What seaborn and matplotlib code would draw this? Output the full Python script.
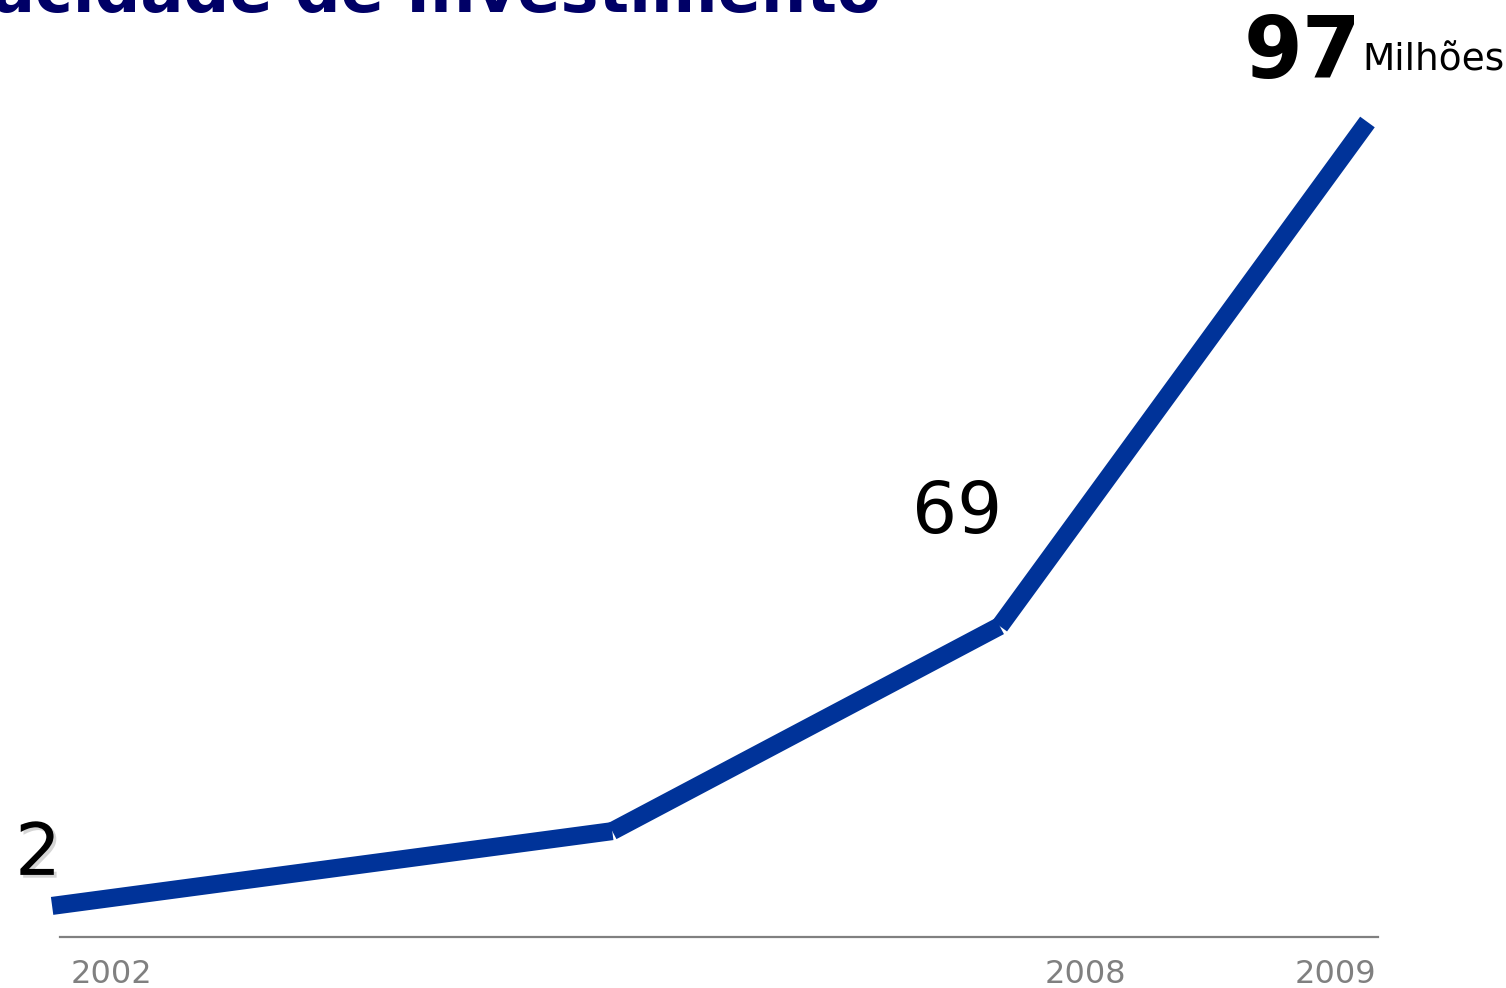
import pandas as pd
import matplotlib
matplotlib.use('Agg')
import matplotlib.pyplot as plt
import matplotlib.patheffects as pe
import seaborn as sns

# data (illustrative infographic, not to scale)
x_pos = [-0.6, 41.9, 71.3, 99.2]          # horizontal position along the baseline
y_pos = [3.7, 12.6, 37.0, 97.0]           # drawn height of the line
labels = ['2', '', '69', '97']            # values printed on the chart
tick_pos = [3.9, 77.8, 96.8]
tick_labels = ['2002', '2008', '2009']
title = 'Capacidade de Investimento'
unit = 'Milhões'

line_color = '#003399'
title_color = '#000066'

sns.set_style('white')
plt.rcParams['font.family'] = ['DejaVu Sans']

# each segment drawn on its own (butt ends, like the original)
rows = []
for i in range(len(x_pos) - 1):
    rows.append({'seg': i, 'x': x_pos[i], 'y': y_pos[i]})
    rows.append({'seg': i, 'x': x_pos[i + 1], 'y': y_pos[i + 1]})
df = pd.DataFrame(rows)

fig = plt.figure(figsize=(15.06, 9.88), dpi=100)
ax = fig.add_axes([60 / 1506, 51 / 988, 1318 / 1506, 815 / 988])

sns.lineplot(data=df, x='x', y='y', units='seg', estimator=None, sort=False,
             color=line_color, linewidth=13, ax=ax)
for ln in ax.get_lines():
    ln.set_solid_capstyle('butt')
    ln.set_clip_on(False)

ax.set_xlim(0, 100)
ax.set_ylim(0, 97)
ax.set_xlabel('')
ax.set_ylabel('')
ax.set_yticks([])
ax.set_xticks(tick_pos)
ax.set_xticklabels(tick_labels)
ax.tick_params(axis='x', length=0, pad=16, labelsize=23, labelcolor='#808080')
sns.despine(ax=ax, left=True, top=True, right=True)
ax.spines['bottom'].set_color('#808080')
ax.spines['bottom'].set_linewidth(1.6)

# value labels
ax.annotate(labels[0], (x_pos[0], y_pos[0]), xytext=(-37, 31), textcoords='offset pixels',
            ha='left', va='baseline', fontsize=52, color='black', annotation_clip=False,
            path_effects=[pe.withSimplePatchShadow(offset=(2, -2), shadow_rgbFace='#888888', alpha=0.35)])
ax.annotate(labels[2], (x_pos[2], y_pos[2]), xytext=(-88, 93), textcoords='offset pixels',
            ha='left', va='baseline', fontsize=51, color='black', annotation_clip=False)
ax.annotate(labels[3], (x_pos[3], y_pos[3]), xytext=(-124, 44), textcoords='offset pixels',
            ha='left', va='baseline', fontsize=61, fontweight='bold', color='black',
            annotation_clip=False)
ax.annotate(unit, (x_pos[3], y_pos[3]), xytext=(-5, 52), textcoords='offset pixels',
            ha='left', va='baseline', fontsize=27, color='black', annotation_clip=False)

# title, cut off at the top edge as in the original
fig.text(881 / 1506, 1 - 12 / 988, title, ha='right', va='baseline',
         fontsize=46, fontweight='bold', color=title_color)

fig.savefig('out.png', dpi=100)
